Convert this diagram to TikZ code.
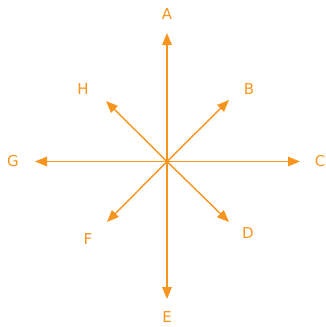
\documentclass[tikz,border=0pt]{standalone}
\usepackage{fontspec}
\setmainfont{DejaVu Sans}
\usetikzlibrary{arrows.meta}
\definecolor{org}{RGB}{247,148,30}
\begin{document}
\begin{tikzpicture}[x=1pt,y=-1pt,
  arr/.style={draw=org,line width=1.4pt,-{Triangle[length=12pt,width=9.5pt]}},
  lbl/.style={text=org,font=\fontsize{15}{17}\selectfont,inner sep=0pt}]
\useasboundingbox (0,0) rectangle (326,327);
\coordinate (O) at (167,161.5);
\node[lbl] (A) at (167,14) {A};
\node[lbl] (B) at (249,89.5) {B};
\node[lbl] (C) at (320,161.5) {C};
\node[lbl] (D) at (248,233.5) {D};
\node[lbl] (E) at (167,317) {E};
\node[lbl] (F) at (88,239.5) {F};
\node[lbl] (G) at (13,161.5) {G};
\node[lbl] (H) at (83,89.5) {H};
\coordinate (tA) at (167,33);
\coordinate (tE) at (167,299);
\coordinate (tC) at (300,161.5);
\coordinate (tG) at (35,161.5);
\coordinate (tB) at (229,100);
\coordinate (tH) at (106,101);
\coordinate (tD) at (229,222);
\coordinate (tF) at (107,222);
\foreach \t in {tA,tB,tC,tD,tE,tF,tG,tH} \draw[arr] (O) -- (\t);
\end{tikzpicture}
\end{document}
